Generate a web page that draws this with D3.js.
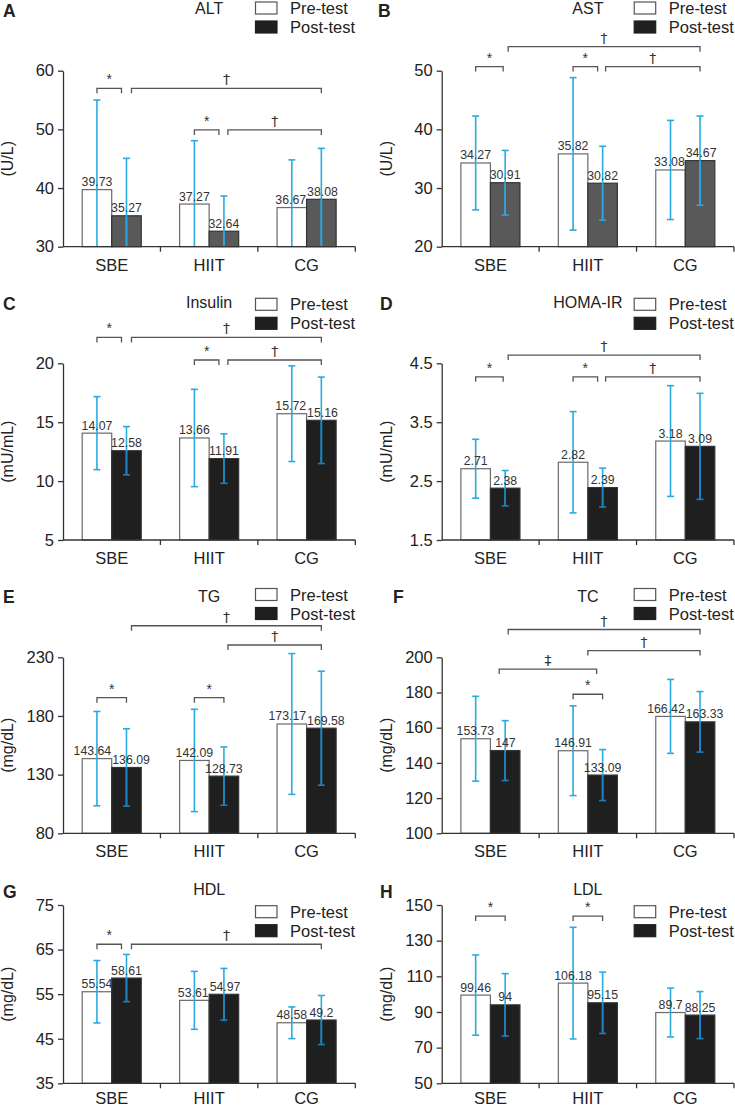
<!DOCTYPE html>
<html>
<head>
<meta charset="utf-8">
<script src="https://cdn.jsdelivr.net/npm/d3@7"></script>
<style>
  body { margin: 0; background: #fff; }
  svg text { font-family: "Liberation Sans", Arial, sans-serif; }
</style>
</head>
<body>
<div id="chart"></div>
<script>
// groups and series
const categories = ["SBE", "HIIT", "CG"];
const seriesNames = ["Pre-test", "Post-test"];

// means and SDs
const altPre = [39.73, 37.27, 36.67];
const altPost = [35.27, 32.64, 38.08];
const altPreSD = [15.27, 10.8, 8.13];
const altPostSD = [9.79, 6.0, 8.68];
const altTicks = [30, 40, 50, 60];

const astPre = [34.27, 35.82, 33.08];
const astPost = [30.91, 30.82, 34.67];
const astPreSD = [8.0, 13.0, 8.45];
const astPostSD = [5.5, 6.3, 7.6];
const astTicks = [20, 30, 40, 50];

const insulinPre = [14.07, 13.66, 15.72];
const insulinPost = [12.58, 11.91, 15.16];
const insulinPreSD = [3.1, 4.13, 4.06];
const insulinPostSD = [2.05, 2.1, 3.67];
const insulinTicks = [5, 10, 15, 20];

const homaPre = [2.71, 2.82, 3.18];
const homaPost = [2.38, 2.39, 3.09];
const homaPreSD = [0.5, 0.86, 0.94];
const homaPostSD = [0.3, 0.33, 0.9];
const homaTicks = [1.5, 2.5, 3.5, 4.5];

const tgPre = [143.64, 142.09, 173.17];
const tgPost = [136.09, 128.73, 169.58];
const tgPreSD = [40.2, 43.6, 60];
const tgPostSD = [33, 24.8, 48.6];
const tgTicks = [80, 130, 180, 230];

const tcPre = [153.73, 146.91, 166.42];
const tcPost = [147, 133.09, 163.33];
const tcPreSD = [24.1, 25.5, 21];
const tcPostSD = [17, 14.5, 17.2];
const tcTicks = [100, 120, 140, 160, 180, 200];

const hdlPre = [55.54, 53.61, 48.58];
const hdlPost = [58.61, 54.97, 49.2];
const hdlPreSD = [7.0, 6.5, 3.55];
const hdlPostSD = [5.3, 5.8, 5.5];
const hdlTicks = [35, 45, 55, 65, 75];

const ldlPre = [99.46, 106.18, 89.7];
const ldlPost = [94, 95.15, 88.25];
const ldlPreSD = [22.5, 31.3, 13.7];
const ldlPostSD = [17.5, 17.2, 13.2];
const ldlTicks = [50, 70, 90, 110, 130, 150];

// significance brackets: [group, bar, px nudge], level in data units
const altBrackets = [
  {from: ["SBE", "pre", 0], to: ["SBE", "post", -5], level: 57, mark: "*"},
  {from: ["SBE", "post", 5], to: ["CG", "post", 0], level: 57, mark: "\u2020"},
  {from: ["HIIT", "pre", 0], to: ["HIIT", "post", -5], level: 49.9, mark: "*"},
  {from: ["HIIT", "post", 4], to: ["CG", "post", 0], level: 49.9, mark: "\u2020"}
];
const astBrackets = [
  {from: ["SBE", "pre", 0], to: ["SBE", "post", -2], level: 50.7, mark: "*"},
  {from: ["SBE", "post", 3], to: ["CG", "post", 0], level: 54.1, mark: "\u2020"},
  {from: ["HIIT", "pre", 0], to: ["HIIT", "post", -5], level: 50.7, mark: "*"},
  {from: ["HIIT", "post", 3], to: ["CG", "post", 0], level: 50.7, mark: "\u2020"}
];
const insulinBrackets = [
  {from: ["SBE", "pre", 0], to: ["SBE", "post", -5], level: 22.2, mark: "*"},
  {from: ["SBE", "post", 5], to: ["CG", "post", 0], level: 22.2, mark: "\u2020"},
  {from: ["HIIT", "pre", 0], to: ["HIIT", "post", -5], level: 20.28, mark: "*"},
  {from: ["HIIT", "post", 4], to: ["CG", "post", 0], level: 20.28, mark: "\u2020"}
];
const homaBrackets = [
  {from: ["SBE", "pre", 0], to: ["SBE", "post", -2], level: 4.27, mark: "*"},
  {from: ["SBE", "post", 3], to: ["CG", "post", 0], level: 4.64, mark: "\u2020"},
  {from: ["HIIT", "pre", 0], to: ["HIIT", "post", -5], level: 4.27, mark: "*"},
  {from: ["HIIT", "post", 3], to: ["CG", "post", 0], level: 4.27, mark: "\u2020"}
];
const tgBrackets = [
  {from: ["SBE", "post", 5], to: ["CG", "post", 0], level: 256.9, mark: "\u2020"},
  {from: ["HIIT", "post", 4], to: ["CG", "post", 0], level: 240.5, mark: "\u2020"},
  {from: ["SBE", "pre", 0], to: ["SBE", "post", 0], level: 195.6, mark: "*"},
  {from: ["HIIT", "pre", 0], to: ["HIIT", "post", 0], level: 195.6, mark: "*"}
];
const tcBrackets = [
  {from: ["SBE", "post", 3], to: ["CG", "post", 0], level: 215.8, mark: "\u2020"},
  {from: ["HIIT", "mid", 0], to: ["CG", "post", 0], level: 203.8, mark: "\u2020"},
  {from: ["SBE", "post", -6], to: ["HIIT", "post", -6], level: 193.3, mark: "\u2021"},
  {from: ["HIIT", "pre", 0], to: ["HIIT", "post", 0], level: 179, mark: "*"}
];
const hdlBrackets = [
  {from: ["SBE", "pre", 0], to: ["SBE", "post", -5], level: 66.2, mark: "*"},
  {from: ["SBE", "post", 5], to: ["CG", "post", 0], level: 66.2, mark: "\u2020"}
];
const ldlBrackets = [
  {from: ["SBE", "pre", 0], to: ["SBE", "post", 0], level: 143.8, mark: "*"},
  {from: ["HIIT", "pre", 0], to: ["HIIT", "post", 0], level: 143.8, mark: "*"}
];

const W = 735, H = 1108;
const plotW = 292.3;
const colX = [63, 441.7];
const rows = [
  {top: 70.7, bottom: 246.7, titleY: 13.5, legendY: 2, letterY: 17, catDy: 24},
  {top: 363.3, bottom: 540, titleY: 308, legendY: 298.3, letterY: 310, catDy: 23.5},
  {top: 657.3, bottom: 833.3, titleY: 601.5, legendY: 588.5, letterY: 603, catDy: 23.5},
  {top: 905, bottom: 1083.3, titleY: 894.5, legendY: 905.7, letterY: 898, catDy: 20.5}
];

const panels = [
  {letter: "A", letterX: 3, title: "ALT", unit: "(U/L)", col: 0, row: 0, pre: altPre, post: altPost, preSD: altPreSD, postSD: altPostSD, ticks: altTicks, brackets: altBrackets, postFill: "#595959", innerErr: "#2aa6e4"},
  {letter: "B", letterX: 378, title: "AST", unit: "(U/L)", col: 1, row: 0, pre: astPre, post: astPost, preSD: astPreSD, postSD: astPostSD, ticks: astTicks, brackets: astBrackets, postFill: "#595959", innerErr: "#2aa6e4"},
  {letter: "C", letterX: 3, title: "Insulin", unit: "(mU/mL)", col: 0, row: 1, pre: insulinPre, post: insulinPost, preSD: insulinPreSD, postSD: insulinPostSD, ticks: insulinTicks, brackets: insulinBrackets, postFill: "#1f1f1f", innerErr: "#1a80c2"},
  {letter: "D", letterX: 380, title: "HOMA-IR", unit: "(mU/mL)", col: 1, row: 1, pre: homaPre, post: homaPost, preSD: homaPreSD, postSD: homaPostSD, ticks: homaTicks, brackets: homaBrackets, postFill: "#1f1f1f", innerErr: "#1a80c2"},
  {letter: "E", letterX: 3, title: "TG", unit: "(mg/dL)", col: 0, row: 2, pre: tgPre, post: tgPost, preSD: tgPreSD, postSD: tgPostSD, ticks: tgTicks, brackets: tgBrackets, postFill: "#1f1f1f", innerErr: "#1a80c2"},
  {letter: "F", letterX: 393, title: "TC", unit: "(mg/dL)", col: 1, row: 2, pre: tcPre, post: tcPost, preSD: tcPreSD, postSD: tcPostSD, ticks: tcTicks, brackets: tcBrackets, postFill: "#1f1f1f", innerErr: "#1a80c2"},
  {letter: "G", letterX: 3, title: "HDL", unit: "(mg/dL)", col: 0, row: 3, pre: hdlPre, post: hdlPost, preSD: hdlPreSD, postSD: hdlPostSD, ticks: hdlTicks, brackets: hdlBrackets, postFill: "#1f1f1f", innerErr: "#1a80c2"},
  {letter: "H", letterX: 380, title: "LDL", unit: "(mg/dL)", col: 1, row: 3, pre: ldlPre, post: ldlPost, preSD: ldlPreSD, postSD: ldlPostSD, ticks: ldlTicks, brackets: ldlBrackets, postFill: "#1f1f1f", innerErr: "#1a80c2"}
];

const svg = d3.select("#chart").append("svg")
  .attr("width", W).attr("height", H)
  .style("background", "#fff");

const errColor = "#29abe2";
const axisColor = "#333";
const valFont = 12.3;

function drawPanel(p) {
  const row = rows[p.row];
  const left = colX[p.col];
  const h = row.bottom - row.top;
  const g = svg.append("g").attr("transform", `translate(${left},${row.top})`);

  const x0 = d3.scaleBand().domain(categories).range([0, plotW]);
  const x1 = d3.scaleBand().domain(["pre", "post"]).range([0, x0.bandwidth()]).paddingOuter(0.65);
  const y = d3.scaleLinear().domain(d3.extent(p.ticks)).range([h, 0]);
  const yMin = y.domain()[0];

  const data = [];
  categories.forEach((c, i) => {
    data.push({cat: c, key: "pre", value: p.pre[i], sd: p.preSD[i]});
    data.push({cat: c, key: "post", value: p.post[i], sd: p.postSD[i]});
  });
  const cx = d => x0(d.cat) + x1(d.key) + x1.bandwidth() / 2;

  g.selectAll("rect.bar").data(data).join("rect")
    .attr("class", "bar")
    .attr("x", d => x0(d.cat) + x1(d.key))
    .attr("width", x1.bandwidth())
    .attr("y", d => y(d.value))
    .attr("height", d => h - y(d.value))
    .attr("fill", d => d.key === "pre" ? "#fff" : p.postFill)
    .attr("stroke", d => d.key === "pre" ? "#6a6a6a" : "#333")
    .attr("stroke-width", 1.2);

  // error bars over the bars (darker where they cross the filled bars)
  const err = g.append("g");
  err.selectAll("line.stem").data(data).join("line")
    .attr("class", "stem")
    .attr("x1", cx).attr("x2", cx)
    .attr("y1", d => y(d.value + d.sd))
    .attr("y2", d => y(Math.max(yMin, d.value - d.sd)))
    .attr("stroke", errColor).attr("stroke-width", 1.6);
  err.selectAll("line.inner").data(data.filter(d => d.key === "post")).join("line")
    .attr("class", "inner")
    .attr("x1", cx).attr("x2", cx)
    .attr("y1", d => y(d.value) + 0.6)
    .attr("y2", d => y(Math.max(yMin, d.value - d.sd)))
    .attr("stroke", p.innerErr).attr("stroke-width", 1.6);
  const capW = 7;
  err.selectAll("line.capT").data(data).join("line")
    .attr("class", "capT")
    .attr("x1", d => cx(d) - capW / 2).attr("x2", d => cx(d) + capW / 2)
    .attr("y1", d => y(d.value + d.sd)).attr("y2", d => y(d.value + d.sd))
    .attr("stroke", errColor).attr("stroke-width", 1.6);
  err.selectAll("line.capB").data(data.filter(d => d.value - d.sd > yMin)).join("line")
    .attr("class", "capB")
    .attr("x1", d => cx(d) - capW / 2).attr("x2", d => cx(d) + capW / 2)
    .attr("y1", d => y(d.value - d.sd)).attr("y2", d => y(d.value - d.sd))
    .attr("stroke", d => d.key === "post" ? p.innerErr : errColor).attr("stroke-width", 1.6);

  // value labels, pushed apart a little when a pair would collide
  const labels = g.selectAll("text.val").data(data).join("text")
    .attr("class", "val")
    .attr("x", cx)
    .attr("y", d => y(d.value) - 3.5)
    .attr("text-anchor", "middle")
    .attr("font-size", valFont)
    .attr("fill", "#333")
    .text(d => d.value);
  const nodes = labels.nodes();
  for (let i = 0; i < nodes.length; i += 2) {
    const a = nodes[i], b = nodes[i + 1];
    const da = data[i], db = data[i + 1];
    const wa = a.getComputedTextLength(), wb = b.getComputedTextLength();
    const ya = y(da.value) - 3.5, yb = y(db.value) - 3.5;
    if (Math.abs(ya - yb) < valFont) {
      const gap = (cx(db) - wb / 2) - (cx(da) + wa / 2);
      if (gap < 1) {
        const shift = (1 - gap) / 2;
        d3.select(a).attr("x", cx(da) - shift);
        d3.select(b).attr("x", cx(db) + shift);
      }
    }
  }

  // y axis
  const yAxis = g.append("g")
    .call(d3.axisLeft(y).tickValues(p.ticks).tickSize(5).tickSizeOuter(0).tickPadding(4)
      .tickFormat(d => d));
  yAxis.select(".domain").attr("stroke", axisColor).attr("stroke-width", 1.3);
  yAxis.selectAll(".tick line").attr("stroke", axisColor).attr("stroke-width", 1.3);
  yAxis.selectAll(".tick text").attr("font-size", 16.5).attr("fill", "#222")
    .style("font-family", "Liberation Sans, Arial, sans-serif");

  // x axis with ticks at group boundaries
  const xAxis = g.append("g").attr("transform", `translate(0,${h})`);
  xAxis.append("line").attr("x1", 0).attr("x2", plotW)
    .attr("stroke", axisColor).attr("stroke-width", 1.3);
  xAxis.selectAll("line.tk").data(categories).join("line")
    .attr("class", "tk")
    .attr("x1", d => x0(d) + x0.bandwidth()).attr("x2", d => x0(d) + x0.bandwidth())
    .attr("y1", 0).attr("y2", 5)
    .attr("stroke", axisColor).attr("stroke-width", 1.3);
  xAxis.selectAll("text").data(categories).join("text")
    .attr("x", d => x0(d) + x0.bandwidth() / 2)
    .attr("y", row.catDy)
    .attr("text-anchor", "middle")
    .attr("font-size", 16.5)
    .attr("fill", "#222")
    .text(d => d);

  // unit label
  g.append("text")
    .attr("transform", `translate(-50,${h / 2}) rotate(-90)`)
    .attr("text-anchor", "middle")
    .attr("font-size", 16)
    .attr("fill", "#222")
    .text(p.unit);

  // brackets
  const bx = e => {
    let base;
    if (e[1] === "mid") base = x0(e[0]) + x0.bandwidth() / 2;
    else base = x0(e[0]) + x1(e[1]) + x1.bandwidth() / 2;
    return base + e[2];
  };
  const br = g.append("g");
  p.brackets.forEach(b => {
    const xa = bx(b.from), xb = bx(b.to), yy = y(b.level);
    br.append("path")
      .attr("d", `M${xa},${yy + 5}V${yy}H${xb}V${yy + 5}`)
      .attr("fill", "none").attr("stroke", "#555").attr("stroke-width", 1.3);
    br.append("text")
      .attr("x", (xa + xb) / 2).attr("y", yy - 4)
      .attr("text-anchor", "middle")
      .attr("font-size", 14)
      .style("font-family", b.mark === "*" ? "Liberation Sans, Arial, sans-serif" : "DejaVu Sans, sans-serif")
      .attr("fill", "#333")
      .text(b.mark);
  });

  // panel letter
  svg.append("text")
    .attr("x", p.letterX).attr("y", row.letterY)
    .attr("font-size", 17.5).attr("font-weight", "bold").attr("fill", "#222")
    .text(p.letter);

  // title
  svg.append("text")
    .attr("x", left + plotW / 2).attr("y", row.titleY)
    .attr("text-anchor", "middle")
    .attr("font-size", 16).attr("fill", "#222")
    .text(p.title);

  // legend
  const lg = svg.append("g").attr("transform", `translate(${left},${row.legendY})`);
  seriesNames.forEach((s, i) => {
    lg.append("rect")
      .attr("x", 192.5).attr("y", i * 19)
      .attr("width", 21.5).attr("height", 12)
      .attr("fill", i === 0 ? "#fff" : "#1f1f1f")
      .attr("stroke", i === 0 ? "#555" : "#1f1f1f").attr("stroke-width", 1.2);
    lg.append("text")
      .attr("x", 227).attr("y", 12 + i * 19)
      .attr("font-size", 16.5).attr("fill", "#222")
      .text(s);
  });
}

panels.forEach(drawPanel);
</script>
</body>
</html>
